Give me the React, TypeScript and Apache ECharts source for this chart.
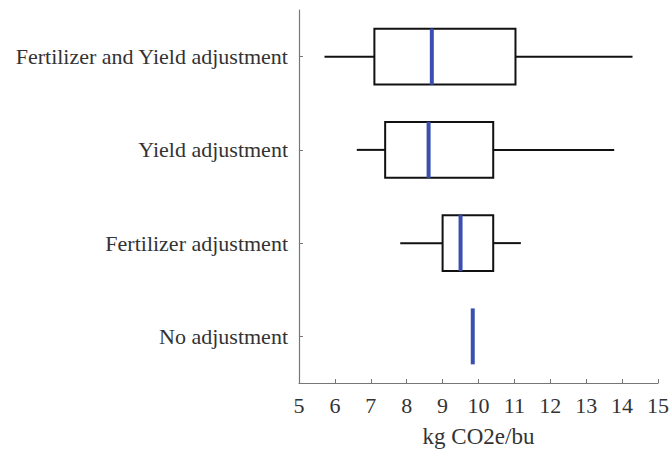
import React, { useEffect, useRef } from "react";
import * as echarts from "echarts";

const categories = [
  "Fertilizer and Yield adjustment",
  "Yield adjustment",
  "Fertilizer adjustment",
  "No adjustment",
];
// [min, q1, median, q3, max]
const boxStats = [
  [5.71, 7.1, 8.7, 11.03, 14.29],
  [6.61, 7.4, 8.61, 10.41, 13.78],
  [7.82, 9.0, 9.5, 10.41, 11.18],
  [9.84, 9.84, 9.84, 9.84, 9.84],
];
const xTicks = { min: 5, max: 15, interval: 1 };

export default function App() {
  const ref = useRef<HTMLDivElement>(null);
  useEffect(() => {
    document.body.style.margin = "0";
    const chart = echarts.init(ref.current!, null, { renderer: "svg" });
    const font = "Liberation Serif";
    chart.setOption({
      animation: false,
      grid: { left: 299, right: 12, top: 10, bottom: 66 },
      xAxis: {
        type: "value",
        min: xTicks.min,
        max: xTicks.max,
        interval: xTicks.interval,
        name: "kg CO2e/bu",
        nameLocation: "middle",
        nameGap: 42,
        nameTextStyle: { fontFamily: font, fontSize: 23, color: "#333" },
        axisLine: { show: true, lineStyle: { color: "#777", width: 1.2 } },
        axisTick: { show: true, inside: true, length: 4, lineStyle: { color: "#777" } },
        axisLabel: { fontFamily: font, fontSize: 22, color: "#333", margin: 11 },
        splitLine: { show: false },
      },
      yAxis: {
        type: "category",
        data: categories,
        inverse: true,
        axisLine: { show: true, lineStyle: { color: "#777", width: 1.2 } },
        axisTick: { show: true, inside: true, length: 4, alignWithLabel: true, lineStyle: { color: "#777" } },
        axisLabel: { fontFamily: font, fontSize: 22, color: "#333", margin: 11 },
        splitLine: { show: false },
      },
      series: [
        {
          type: "custom",
          data: boxStats.map((s, i) => [i, ...s]),
          encode: { y: 0, x: [1, 2, 3, 4, 5] },
          renderItem: (params: any, api: any) => {
            const c = api.value(0);
            const mn = api.value(1), q1 = api.value(2), md = api.value(3), q3 = api.value(4), mx = api.value(5);
            const h = api.size([0, 1])[1] * 0.6;
            const pMin = api.coord([mn, c]);
            const pQ1 = api.coord([q1, c]);
            const pMd = api.coord([md, c]);
            const pQ3 = api.coord([q3, c]);
            const pMax = api.coord([mx, c]);
            const y = pMd[1];
            const children: any[] = [];
            const black = { stroke: "#111", lineWidth: 2, fill: "none" };
            if (q3 > q1) {
              children.push({
                type: "line",
                shape: { x1: pMin[0], y1: y, x2: pQ1[0], y2: y },
                style: black,
              });
              children.push({
                type: "line",
                shape: { x1: pQ3[0], y1: y, x2: pMax[0], y2: y },
                style: black,
              });
              children.push({
                type: "rect",
                shape: { x: pQ1[0], y: y - h / 2, width: pQ3[0] - pQ1[0], height: h },
                style: { stroke: "#111", lineWidth: 2, fill: "#fff" },
              });
            }
            children.push({
              type: "line",
              shape: { x1: pMd[0], y1: y - h / 2, x2: pMd[0], y2: y + h / 2 },
              style: { stroke: "#3a4fb0", lineWidth: 4 },
            });
            return { type: "group", children };
          },
        },
      ],
    });
    return () => chart.dispose();
  }, []);
  return <div ref={ref} style={{ width: 672, height: 453 }} />;
}
